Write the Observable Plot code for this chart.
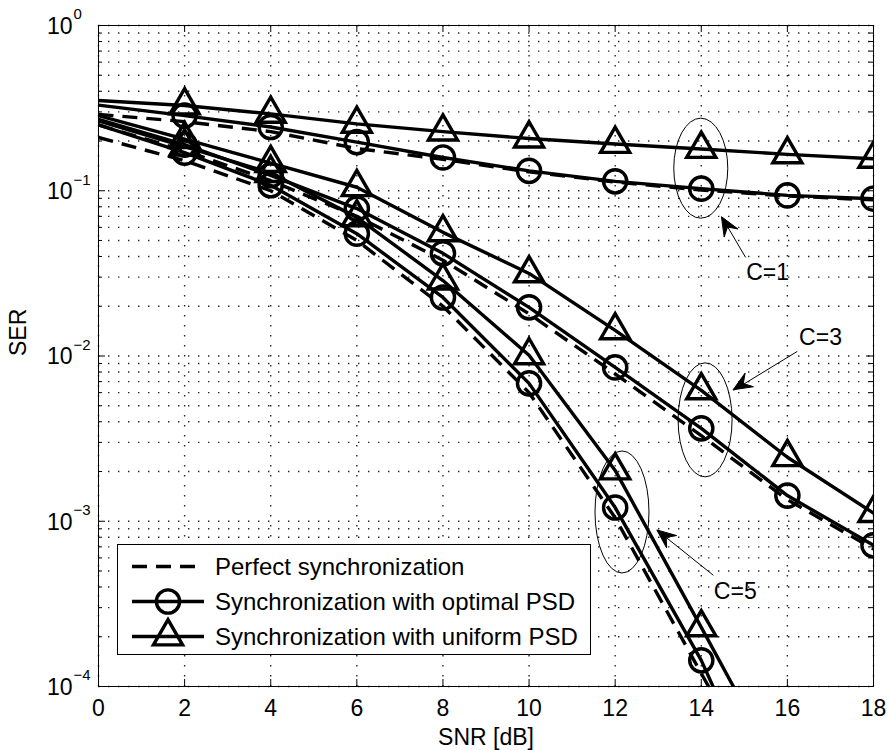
<!DOCTYPE html>
<html><head><meta charset="utf-8">
<script src="https://cdn.jsdelivr.net/npm/d3@7"></script>
<script src="https://cdn.jsdelivr.net/npm/@observablehq/plot@0.6"></script>
<style>html,body{margin:0;padding:0;background:#fff}svg{display:block}</style>
</head><body><div id="chart"></div>
<script>
// ---- data ----
const snr = [0, 2, 4, 6, 8, 10, 12, 14, 16, 18];

const perfectC1 = [0.29, 0.262, 0.228, 0.180, 0.155, 0.130, 0.113, 0.101, 0.093, 0.088];
const optimalC1 = [0.33, 0.285, 0.243, 0.197, 0.159, 0.132, 0.114, 0.103, 0.0937, 0.0895];
const uniformC1 = [0.352, 0.328, 0.292, 0.254, 0.228, 0.207, 0.192, 0.179, 0.166, 0.156];

const perfectC3 = [0.25, 0.175, 0.115, 0.070, 0.038, 0.018, 0.0078, 0.0033, 0.00135, 0.00068];
const optimalC3 = [0.27, 0.19, 0.124, 0.078, 0.0418, 0.0197, 0.00853, 0.00365, 0.00143, 0.000715];
const uniformC3 = [0.285, 0.205, 0.147, 0.105, 0.056, 0.0316, 0.0143, 0.00619, 0.00244, 0.00112];

const perfectC5 = [0.21, 0.152, 0.100, 0.050, 0.020, 0.0060, 0.00105, 0.00012, 0.000014];
const optimalC5 = [0.25, 0.17, 0.108, 0.055, 0.0226, 0.00683, 0.00121, 0.000144, 0.00001];
const uniformC5 = [0.265, 0.185, 0.128, 0.069, 0.0286, 0.0101, 0.00203, 0.000228, 0.000025];

// markers are drawn at these SNR values only (none at 0 dB in the reference)
const markerSnr = [2, 4, 6, 8, 10, 12, 14, 16, 18];

const xTicks = [0, 2, 4, 6, 8, 10, 12, 14, 16, 18];
const yMajor = [1e-4, 1e-3, 1e-2, 1e-1, 1];
const yExp = ["\u22124", "\u22123", "\u22122", "\u22121", "0"];
const yMinor = [2,3,4,5,6,7,8,9].flatMap(m => [1e-4, 1e-3, 1e-2, 1e-1].map(p => m * p));

const legendLabels = ["Perfect synchronization", "Synchronization with optimal PSD", "Synchronization with uniform PSD"];

// annotations (data coordinates)
const annoLabels = ["C=1", "C=3", "C=5"];
const annoTextX = [15.54, 16.77, 14.79];
const annoTextY = [0.032, 0.013, 3.77e-4];
const arrowFromX = [15.03, 16.23, 14.28];
const arrowFromY = [0.0395, 0.01066, 4.71e-4];
const arrowToX = [14.48, 14.75, 12.98];
const arrowToY = [0.0692, 0.0062, 8.8e-4];
const ellipseX = [14, 14.1, 12.17];
const ellipseY = [0.136, 0.00408, 0.00113];

// ---- build tidy table ----
const seriesList = [
  {kind: "perfect", c: 1, v: perfectC1}, {kind: "optimal", c: 1, v: optimalC1}, {kind: "uniform", c: 1, v: uniformC1},
  {kind: "perfect", c: 3, v: perfectC3}, {kind: "optimal", c: 3, v: optimalC3}, {kind: "uniform", c: 3, v: uniformC3},
  {kind: "perfect", c: 5, v: perfectC5}, {kind: "optimal", c: 5, v: optimalC5}, {kind: "uniform", c: 5, v: uniformC5}
];
const data = seriesList.flatMap(s => s.v.map((ser, i) => ({snr: snr[i], ser, kind: s.kind, key: s.kind + s.c})));
const markerData = data.filter(d => markerSnr.includes(d.snr));

const W = 889, H = 750, mL = 98, mR = 16, mT = 25, mB = 64;
const plotW = W - mL - mR, plotH = H - mT - mB;
const FONT = "'Liberation Sans', Arial, Helvetica, sans-serif";
const gridStyle = {stroke: "#000", strokeOpacity: 0.85, strokeWidth: 1.4, strokeDasharray: "1.4,8.6"};
const LW = 3.4;

const plot = Plot.plot({
  width: W, height: H,
  marginLeft: mL, marginRight: mR, marginTop: mT, marginBottom: mB,
  x: {domain: [0, 18], axis: null},
  y: {type: "log", domain: [1e-4, 1], axis: null},
  style: {fontFamily: FONT, background: "white", color: "black", overflow: "visible"},
  marks: [
    Plot.gridX(xTicks, gridStyle),
    Plot.gridY([...yMajor, ...yMinor], gridStyle),
    // ticks (inward)
    Plot.ruleX(xTicks, {stroke: "black", insetTop: plotH - 7}),
    Plot.ruleX(xTicks, {stroke: "black", insetBottom: plotH - 7}),
    Plot.ruleY(yMajor, {stroke: "black", insetRight: plotW - 7}),
    Plot.ruleY(yMajor, {stroke: "black", insetLeft: plotW - 7}),
    Plot.ruleY(yMinor, {stroke: "black", insetRight: plotW - 4}),
    Plot.ruleY(yMinor, {stroke: "black", insetLeft: plotW - 4}),
    Plot.frame({stroke: "black", strokeWidth: 1}),
    // data
    Plot.line(data.filter(d => d.kind === "perfect"), {x: "snr", y: "ser", z: "key", stroke: "black", strokeWidth: LW, strokeDasharray: "15,9", strokeLinecap: "butt", clip: true}),
    Plot.line(data.filter(d => d.kind !== "perfect"), {x: "snr", y: "ser", z: "key", stroke: "black", strokeWidth: LW, clip: true}),
    Plot.dot(markerData.filter(d => d.kind === "optimal"), {x: "snr", y: "ser", symbol: "circle", r: 11.6, stroke: "black", strokeWidth: LW, fill: "none", clip: true}),
    Plot.dot(markerData.filter(d => d.kind === "uniform"), {x: "snr", y: "ser", symbol: "triangle", r: 10.8, stroke: "black", strokeWidth: LW, fill: "none", clip: true}),
    // tick labels
    Plot.text(xTicks, {x: d => d, text: d => String(d), frameAnchor: "bottom", lineAnchor: "middle", dy: 22, fontSize: 23}),
    Plot.text(yMajor, {y: d => d, text: () => "10", frameAnchor: "left", lineAnchor: "middle", textAnchor: "end", dx: -26, dy: 1, fontSize: 23}),
    Plot.text(yMajor, {y: d => d, text: (d, i) => yExp[i], frameAnchor: "left", lineAnchor: "middle", textAnchor: "start", dx: -25, dy: -11, fontSize: 15}),
    Plot.text(["SNR [dB]"], {frameAnchor: "bottom", lineAnchor: "middle", dy: 51, fontSize: 23}),
    Plot.text(["SER"], {frameAnchor: "left", lineAnchor: "middle", dx: -80, rotate: -90, fontSize: 23}),
    // annotations
    Plot.text(annoLabels, {x: (d, i) => annoTextX[i], y: (d, i) => annoTextY[i], fontSize: 23}),
    Plot.link(annoLabels, {x1: (d, i) => arrowFromX[i], y1: (d, i) => arrowFromY[i], x2: (d, i) => arrowToX[i], y2: (d, i) => arrowToY[i], stroke: "black", strokeWidth: 1})
  ]
});

document.getElementById("chart").appendChild(plot);

const sx = plot.scale("x"), sy = plot.scale("y");
const svg = d3.select(plot);
const ann = svg.append("g");

// ellipses
const ellR = [[27, 50], [27, 57], [27, 61]];
ellipseX.forEach((xv, i) => {
  ann.append("ellipse")
    .attr("cx", sx.apply(xv)).attr("cy", sy.apply(ellipseY[i]))
    .attr("rx", ellR[i][0]).attr("ry", ellR[i][1])
    .attr("fill", "none").attr("stroke", "black").attr("stroke-width", 1);
});

// arrow heads
arrowToX.forEach((xv, i) => {
  const tx = sx.apply(xv), ty = sy.apply(arrowToY[i]);
  const fx = sx.apply(arrowFromX[i]), fy = sy.apply(arrowFromY[i]);
  const dx = tx - fx, dy = ty - fy, len = Math.hypot(dx, dy);
  const ux = dx / len, uy = dy / len, nx = -uy, ny = ux;
  const L = 19, hw = 8, notch = 12;
  const p = [
    [tx, ty],
    [tx - ux * L + nx * hw, ty - uy * L + ny * hw],
    [tx - ux * notch, ty - uy * notch],
    [tx - ux * L - nx * hw, ty - uy * L - ny * hw]
  ];
  ann.append("path").attr("d", "M" + p.map(q => q.join(",")).join("L") + "Z")
    .attr("fill", "black").attr("stroke", "black").attr("stroke-width", 1);
});

// legend
const lg = svg.append("g").attr("text-anchor", "start");
lg.append("rect").attr("x", 117.5).attr("y", 544.5).attr("width", 473).attr("height", 110)
  .attr("fill", "white").attr("stroke", "black").attr("stroke-width", 1);
const rowY = [566.5, 601.5, 636.5];
legendLabels.forEach((lab, i) => {
  const y = rowY[i];
  const ln = lg.append("line").attr("x1", 132).attr("x2", 204).attr("y1", y).attr("y2", y)
    .attr("stroke", "black").attr("stroke-width", LW);
  if (i === 0) ln.attr("stroke-dasharray", "15,9");
  if (i === 1) {
    lg.append("circle").attr("cx", 168).attr("cy", y).attr("r", 11.6)
      .attr("fill", "none").attr("stroke", "black").attr("stroke-width", LW);
  }
  if (i === 2) {
    lg.append("path").attr("transform", `translate(168,${y})`)
      .attr("d", d3.symbol(d3.symbolTriangle, Math.PI * 10.8 * 10.8)())
      .attr("fill", "none").attr("stroke", "black").attr("stroke-width", LW);
  }
  lg.append("text").attr("x", 215).attr("y", y).attr("dy", "0.35em")
    .attr("text-anchor", "start")
    .attr("font-family", FONT).attr("font-size", 24).attr("fill", "black").text(lab);
});
</script>
</body></html>
